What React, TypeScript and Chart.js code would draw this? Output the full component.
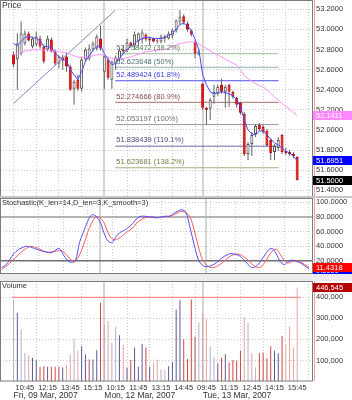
import React, { useEffect, useRef } from 'react';
import { Chart, registerables } from 'chart.js';

Chart.register(...registerables);

// ---------------- data ----------------
const opens = [52.75, 52.70, 52.76, 52.86, 52.96, 52.83, 52.85, 52.91, 52.83, 52.80, 52.90, 52.78, 52.66, 52.72, 52.73, 52.63, 52.41, 52.50, 52.41, 52.70, 52.71, 52.80, 52.81, 52.91,
  52.58, 52.70, 52.50, 52.66, 52.70, 52.80, 52.79, 52.87, 52.84, 52.88, 52.90, 52.95, 52.89, 52.91, 52.89, 52.88, 52.93, 52.91, 52.94, 52.99, 53.08, 53.13, 53.06, 52.99, 52.88, 52.75,
  52.46, 52.22, 52.21, 52.33, 52.36, 52.45, 52.38, 52.45, 52.38, 52.32, 52.27, 52.16, 51.76, 51.86, 51.96, 52.05, 52.03, 51.99, 51.90, 51.78, 51.82, 51.95, 51.79, 51.78, 51.76, 51.73];
const highs = [52.78, 52.96, 53.08, 52.99, 52.98, 52.93, 52.98, 52.94, 52.85, 52.94, 52.92, 52.80, 52.74, 52.75, 52.77, 52.65, 52.50, 52.55, 52.73, 52.82, 52.85, 52.88, 52.95, 53.04,
  52.74, 52.72, 52.69, 52.74, 52.82, 52.84, 52.91, 52.88, 52.98, 52.97, 53.00, 52.96, 52.93, 52.92, 52.91, 52.95, 52.95, 52.98, 53.01, 53.10, 53.19, 53.15, 53.08, 53.00, 52.89, 52.80,
  52.47, 52.23, 52.32, 52.45, 52.45, 52.51, 52.45, 52.46, 52.39, 52.33, 52.28, 52.18, 51.88, 51.98, 52.06, 52.07, 52.05, 52.01, 51.92, 51.86, 51.93, 51.96, 51.82, 51.80, 51.78, 51.74];
const lows = [52.62, 52.40, 52.74, 52.84, 52.88, 52.81, 52.83, 52.81, 52.66, 52.78, 52.77, 52.64, 52.61, 52.60, 52.58, 52.39, 52.25, 52.39, 52.38, 52.68, 52.69, 52.78, 52.79, 52.79,
  52.41, 52.50, 52.41, 52.60, 52.68, 52.75, 52.77, 52.82, 52.80, 52.82, 52.86, 52.88, 52.84, 52.87, 52.86, 52.86, 52.87, 52.90, 52.91, 52.97, 53.05, 53.05, 52.98, 52.93, 52.71, 52.74,
  52.20, 52.05, 52.10, 52.26, 52.34, 52.36, 52.22, 52.23, 52.31, 52.22, 52.15, 51.74, 51.70, 51.74, 51.93, 51.99, 51.96, 51.83, 51.70, 51.70, 51.79, 51.76, 51.75, 51.74, 51.72, 51.50];
const closes = [52.65, 52.86, 52.96, 52.96, 52.89, 52.91, 52.93, 52.83, 52.68, 52.91, 52.78, 52.66, 52.73, 52.69, 52.63, 52.40, 52.48, 52.41, 52.70, 52.80, 52.81, 52.86, 52.93, 52.81,
  52.73, 52.52, 52.68, 52.72, 52.79, 52.78, 52.87, 52.84, 52.95, 52.96, 52.97, 52.90, 52.91, 52.88, 52.88, 52.93, 52.91, 52.96, 52.99, 53.09, 53.12, 53.07, 53.00, 52.95, 52.76, 52.78,
  52.22, 52.20, 52.30, 52.38, 52.43, 52.38, 52.43, 52.38, 52.33, 52.25, 52.17, 51.76, 51.86, 51.95, 52.04, 52.01, 51.98, 51.85, 51.77, 51.84, 51.90, 51.78, 51.77, 51.76, 51.74, 51.50];

const fastMA = [52.86, 52.84, 52.88, 52.92, 52.93, 52.92, 52.91, 52.89, 52.83, 52.83, 52.82, 52.76, 52.73, 52.70, 52.69, 52.60, 52.55, 52.50, 52.58, 52.68, 52.74, 52.79, 52.83, 52.84,
  52.76, 52.70, 52.65, 52.66, 52.71, 52.76, 52.80, 52.83, 52.86, 52.89, 52.91, 52.92, 52.92, 52.91, 52.91, 52.91, 52.92, 52.94, 52.96, 53.00, 53.05, 53.06, 53.04, 52.99, 52.90, 52.80,
  52.55, 52.45, 52.38, 52.36, 52.37, 52.38, 52.37, 52.36, 52.34, 52.30, 52.23, 52.10, 52.00, 51.96, 51.95, 51.99, 51.99, 51.95, 51.91, 51.87, 51.85, 51.82, 51.79, 51.77, 51.74, 51.6951];
const slowMA = [52.745, 52.76, 52.775, 52.785, 52.79, 52.795, 52.797, 52.797, 52.795, 52.795, 52.793, 52.787, 52.78, 52.772, 52.765, 52.752, 52.738, 52.725, 52.718, 52.72, 52.728, 52.738, 52.748, 52.75,
  52.74, 52.725, 52.712, 52.706, 52.708, 52.712, 52.718, 52.726, 52.74, 52.752, 52.765, 52.775, 52.782, 52.788, 52.793, 52.797, 52.80, 52.812, 52.83, 52.846, 52.858, 52.868, 52.874, 52.876, 52.872, 52.855,
  52.83, 52.81, 52.788, 52.765, 52.745, 52.726, 52.705, 52.685, 52.665, 52.646, 52.60, 52.545, 52.51, 52.485, 52.46, 52.44, 52.428, 52.40, 52.365, 52.33, 52.297, 52.265, 52.235, 52.205, 52.173, 52.1411];

const stochK = [11, 14, 22, 30, 35, 38, 40, 39, 37, 35, 33, 32, 31, 34, 37, 29, 21, 18, 20, 45, 60, 74, 83, 81,
  74, 58, 47, 45, 54, 59, 62, 66, 71, 78, 81, 81, 80, 80, 79, 80, 81, 81, 85, 88, 90, 86, 65, 42, 22, 14,
  12, 13, 16, 20, 25, 28, 30, 29, 27, 22, 16, 11, 12, 18, 26, 34, 37, 30, 19, 15, 19, 21, 19, 17, 13, 9.2];
const stochD = [8, 12, 17, 22, 28, 33, 37, 40, 39, 37, 34, 32, 32, 33, 34, 33, 27, 21, 20, 28, 42, 59, 72, 80,
  79, 72, 58, 50, 49, 52, 57, 61, 65, 72, 76, 79, 80, 79, 79, 80, 81, 81, 83, 86, 88, 86, 80, 62, 40, 22,
  14, 11, 11, 14, 18, 23, 27, 29, 29, 26, 22, 16, 12, 11, 16, 25, 33, 36, 29, 20, 17, 19, 20, 18, 15, 11.4318];

const volumes = [386000, 326000, 249000, 137000, 126000, 113000, 102000, 70000, 73000, 70000, 70000, 70000, 70000, 67000, 80000, 130000, 197000, 146000, 168000, 130000, 105000, 105000, 149000, 374000,
  268000, 287000, 184000, 260000, 220000, 173000, 67000, 102000, 162000, 70000, 178000, 162000, 70000, 89000, 105000, 58000, 55000, 73000, 94000, 342000, 386000, 201000, 107000, 390000, 212000, 281000,
  323000, 296000, 168000, 118000, 86000, 113000, 129000, 91000, 102000, 99000, 146000, 304000, 279000, 134000, 67000, 134000, 138000, 110000, 168000, 146000, 134000, 216000, 173000, 263000, 162000, 446545];
const volumeTone = ['bl', 'b', 'bl', 'bl', 'rl', 'b', 'b', 'r', 'r', 'b', 'r', 'r', 'r', 'b', 'rl', 'rl', 'bl', 'rl', 'b', 'b', 'r', 'b', 'b', 'r',
  'bl', 'rl', 'bl', 'bl', 'b', 'rl', 'b', 'r', 'b', 'b', 'b', 'r', 'b', 'rl', 'rl', 'bl', 'rl', 'b', 'b', 'b', 'b', 'r', 'r', 'r', 'r', 'bl',
  'rl', 'rl', 'bl', 'bl', 'b', 'r', 'b', 'r', 'r', 'r', 'r', 'rl', 'bl', 'rl', 'bl', 'r', 'r', 'r', 'r', 'b', 'b', 'r', 'rl', 'rl', 'rl', 'rl'];

const priceTicks = [53.2, 53.0, 52.8, 52.6, 52.4, 52.2, 52.0, 51.8, 51.6, 51.4];
const stochTicks = [100, 80, 60, 40, 20];
const volumeTicks = [100000, 200000, 300000, 400000];
const stochLevels = [80, 20];
const volumeAlert = 400000;

const timeTickBars = [3, 9, 15, 21, 27, 33, 39, 45, 51, 57, 63, 69, 75];
const timeTickLabels = ['10:45', '12:15', '13:45', '15:15', '10:15', '11:45', '13:15', '14:45', '09:45', '11:15', '12:45', '14:15', '15:45'];
const dayStartBars = [0, 24, 50];
const dayLabels = ['Fri, 09 Mar, 2007', 'Mon, 12 Mar, 2007', 'Tue, 13 Mar, 2007'];

const fibLevels = [52.758472, 52.623648, 52.489424, 52.274666, 52.053197, 51.838439, 51.623681];
const fibPercents = ['38.2%', '50%', '61.8%', '80.9%', '100%', '119.1%', '138.2%'];
const fibFromBar = 26.9;
const fibToBar = 70.1;
const trendBars = [0.05, 26.9];
const trendPrices = [52.265, 53.19];

// ---------------- styles / layout ----------------
const X_MIN = -0.4;
const X_MAX = 76.0;
const PRICE_MIN = 51.3327;
const PRICE_MAX = 53.2928;
const STOCH_MIN = 2;
const STOCH_MAX = 106;
const VOL_MIN = 0;
const VOL_MAX = 477400;
const AXIS_W = 39;

const SANS = "'Liberation Sans', Arial, sans-serif";
const SMALL = 7.5;
const GRID = '#c8c8c8';
const TEXT = '#333333';
const fibLineColors = ['#9cc09c', '#8fb0b0', '#5050f0', '#a87070', '#9a9a9a', '#6a6aa0', '#aaaa7a'];
const fibTextColors = ['#5c7c5c', '#4c7272', '#3a3ad8', '#864c4c', '#707070', '#4c4c80', '#7a7a48'];
const toneColors: Record<string, string> = { b: '#5a5a92', bl: '#b0b0cc', r: '#c84848', rl: '#e6a4a4' };

function drawFrame(chart: any) {
  const { ctx, chartArea: a } = chart;
  ctx.save();
  ctx.setLineDash([]);
  ctx.strokeStyle = '#7c7c7c';
  ctx.lineWidth = 1;
  ctx.strokeRect(a.left + 0.5, a.top + 0.5, a.right - a.left - 1, a.bottom - a.top - 1);
  ctx.strokeStyle = '#ff9c9c';
  ctx.beginPath();
  ctx.moveTo(a.right + 1.5, a.top);
  ctx.lineTo(a.right + 1.5, a.bottom);
  ctx.stroke();
  ctx.restore();
}

function drawDaySeparators(chart: any) {
  const { ctx, chartArea: a, scales } = chart;
  ctx.save();
  ctx.strokeStyle = '#d4d4d4';
  ctx.lineWidth = 2;
  dayStartBars.slice(1).forEach((b) => {
    const x = Math.round(scales.x.getPixelForValue(b));
    ctx.beginPath();
    ctx.moveTo(x, a.top);
    ctx.lineTo(x, a.bottom);
    ctx.stroke();
  });
  ctx.restore();
}

function drawTitle(chart: any, text: string, size: number) {
  const { ctx, chartArea: a } = chart;
  ctx.save();
  ctx.font = `${size}px ${SANS}`;
  ctx.fillStyle = TEXT;
  ctx.textAlign = 'left';
  ctx.textBaseline = 'top';
  ctx.fillText(text, a.left + 2, a.top + 1.5);
  ctx.restore();
}

function drawValueBox(chart: any, value: number, text: string, bg: string, fg: string) {
  const { ctx, chartArea: a, scales } = chart;
  const y = scales.y.getPixelForValue(value);
  const top = Math.round(y - 4.5);
  ctx.save();
  ctx.fillStyle = bg;
  ctx.fillRect(a.right, top, chart.width - a.right, 9);
  ctx.fillStyle = fg;
  ctx.font = `${SMALL}px ${SANS}`;
  ctx.textAlign = 'left';
  ctx.textBaseline = 'middle';
  ctx.fillText(text, a.right + 3, top + 5);
  ctx.restore();
}

function baseScales(yMin: number, yMax: number, yTicks: number[], fmt: (v: number) => string) {
  return {
    x: {
      type: 'linear',
      min: X_MIN,
      max: X_MAX,
      afterBuildTicks: (s: any) => { s.ticks = timeTickBars.map((v) => ({ value: v })); },
      ticks: { display: false },
      grid: { color: GRID, drawTicks: false },
      border: { display: false, dash: [1, 2] },
      afterFit: (s: any) => { s.height = 0; },
    },
    y: {
      type: 'linear',
      position: 'right',
      min: yMin,
      max: yMax,
      afterBuildTicks: (s: any) => { s.ticks = yTicks.map((v) => ({ value: v })); },
      ticks: { callback: (v: any) => fmt(Number(v)), padding: 3, color: TEXT, font: { family: SANS, size: SMALL } },
      grid: { color: GRID, drawTicks: false },
      border: { display: false, dash: [1, 2] },
      afterFit: (s: any) => { s.width = AXIS_W; s.paddingTop = 0; s.paddingBottom = 0; },
    },
  } as any;
}

const common = {
  animation: false,
  responsive: false,
  events: [],
  layout: { padding: 0 },
  plugins: { legend: { display: false }, tooltip: { enabled: false } },
} as any;

function makePrice(canvas: HTMLCanvasElement) {
  const idx = opens.map((_, i) => i);
  const down = idx.map((i) => closes[i] < opens[i]);
  return new Chart(canvas, {
    type: 'bar',
    data: {
      datasets: [
        ...fibLevels.map((lvl, k) => ({
          type: 'line', data: [{ x: fibFromBar, y: lvl }, { x: fibToBar, y: lvl }],
          borderColor: fibLineColors[k], borderWidth: 1, pointRadius: 0, order: 6,
        })),
        {
          type: 'bar', data: idx.map((i) => ({ x: i, y: [lows[i], highs[i]] })),
          backgroundColor: '#606060', barThickness: 1, inflateAmount: 0, grouped: false, order: 5,
        },
        {
          type: 'bar', data: idx.map((i) => ({ x: i, y: [opens[i], closes[i]] })),
          backgroundColor: idx.map((i) => (down[i] ? '#ee1111' : '#ffffff')),
          borderColor: idx.map((i) => (down[i] ? '#cc0000' : '#4a4a4a')),
          borderWidth: 1, borderSkipped: false, inflateAmount: 0, barThickness: 3, grouped: false, order: 4,
        },
        {
          type: 'line', data: trendBars.map((b, k) => ({ x: b, y: trendPrices[k] })),
          borderColor: '#8686c6', borderWidth: 1, pointRadius: 0, order: 3,
        },
        {
          type: 'line', data: idx.map((i) => ({ x: i, y: slowMA[i] })),
          borderColor: '#ff90ff', borderWidth: 1, pointRadius: 0, order: 2,
        },
        {
          type: 'line', data: idx.map((i) => ({ x: i, y: fastMA[i] })),
          borderColor: '#4a4aff', borderWidth: 1, pointRadius: 0, order: 1,
        },
      ] as any,
    },
    options: { ...common, scales: baseScales(PRICE_MIN, PRICE_MAX, priceTicks, (v) => v.toFixed(4)) },
    plugins: [{
      id: 'pricePanel',
      beforeDatasetsDraw: (chart: any) => drawDaySeparators(chart),
      afterDatasetsDraw: (chart: any) => {
        const { ctx, scales } = chart;
        ctx.save();
        ctx.font = `${SMALL}px ${SANS}`;
        ctx.textAlign = 'left';
        ctx.textBaseline = 'bottom';
        fibLevels.forEach((lvl, k) => {
          ctx.fillStyle = fibTextColors[k];
          ctx.fillText(`${lvl.toFixed(6)} (${fibPercents[k]})`, scales.x.getPixelForValue(fibFromBar) + 1, scales.y.getPixelForValue(lvl) - 2);
        });
        ctx.restore();
        drawTitle(chart, 'Price', 8.5);
      },
      afterDraw: (chart: any) => {
        drawFrame(chart);
        const n = closes.length - 1;
        drawValueBox(chart, slowMA[n], slowMA[n].toFixed(4), '#ff88ff', '#ffffff');
        drawValueBox(chart, fastMA[n], fastMA[n].toFixed(4), '#0000ff', '#ffffff');
        drawValueBox(chart, closes[n], closes[n].toFixed(4), '#000000', '#ffffff');
      },
    }],
  });
}

function makeStoch(canvas: HTMLCanvasElement) {
  const idx = stochK.map((_, i) => i);
  return new Chart(canvas, {
    type: 'line',
    data: {
      datasets: [
        ...stochLevels.map((lvl, k) => ({
          type: 'line', data: [{ x: X_MIN, y: lvl }, { x: X_MAX, y: lvl }],
          borderColor: k === 0 ? '#b4b4b4' : '#6e6e6e', borderWidth: k === 0 ? 2 : 1.5, pointRadius: 0, order: 3,
        })),
        {
          type: 'line', data: idx.map((i) => ({ x: i, y: stochD[i] })),
          borderColor: '#ff5a5a', borderWidth: 1, pointRadius: 0, tension: 0.35, order: 2,
        },
        {
          type: 'line', data: idx.map((i) => ({ x: i, y: stochK[i] })),
          borderColor: '#5050ff', borderWidth: 1, pointRadius: 0, tension: 0.35, order: 1,
        },
      ] as any,
    },
    options: { ...common, scales: baseScales(STOCH_MIN, STOCH_MAX, stochTicks, (v) => v.toFixed(4)) },
    plugins: [{
      id: 'stochPanel',
      beforeDatasetsDraw: (chart: any) => drawDaySeparators(chart),
      afterDatasetsDraw: (chart: any) => drawTitle(chart, 'Stochastic(K_len=14,D_len=3,K_smooth=3)', SMALL),
      afterDraw: (chart: any) => {
        drawFrame(chart);
        const n = stochK.length - 1;
        drawValueBox(chart, stochK[n] - 3, stochK[n].toFixed(4), '#0000ff', '#ffffff');
        drawValueBox(chart, stochD[n], stochD[n].toFixed(4), '#ff0000', '#ffffff');
      },
    }],
  });
}

function makeVolume(canvas: HTMLCanvasElement) {
  const idx = volumes.map((_, i) => i);
  const scales = baseScales(VOL_MIN, VOL_MAX, volumeTicks, (v) => v.toLocaleString('en-US'));
  scales.x = {
    ...scales.x,
    ticks: {
      display: true, padding: 1.5, maxRotation: 0, autoSkip: false, color: TEXT,
      font: { family: SANS, size: SMALL },
      callback: (v: any) => timeTickLabels[timeTickBars.indexOf(Number(v))] ?? '',
    },
    afterFit: (s: any) => { s.height = 18.5; },
  };
  return new Chart(canvas, {
    type: 'bar',
    data: {
      datasets: [
        {
          type: 'line', data: [{ x: X_MIN, y: volumeAlert }, { x: X_MAX, y: volumeAlert }],
          borderColor: '#ff7474', borderWidth: 1, pointRadius: 0, order: 1,
        },
        {
          type: 'bar', data: idx.map((i) => ({ x: i, y: volumes[i] })),
          backgroundColor: idx.map((i) => toneColors[volumeTone[i]]),
          barThickness: 1, inflateAmount: 0, grouped: false, order: 2,
        },
      ] as any,
    },
    options: { ...common, scales },
    plugins: [{
      id: 'volumePanel',
      beforeDatasetsDraw: (chart: any) => drawDaySeparators(chart),
      afterDatasetsDraw: (chart: any) => drawTitle(chart, 'Volume', SMALL),
      afterDraw: (chart: any) => {
        drawFrame(chart);
        const { ctx, chartArea: a, scales: sc } = chart;
        // day labels under the time axis, left-aligned at each day's first bar
        ctx.save();
        ctx.font = `8.5px ${SANS}`;
        ctx.fillStyle = TEXT;
        ctx.textAlign = 'left';
        ctx.textBaseline = 'top';
        dayStartBars.forEach((b, k) => {
          ctx.fillText(dayLabels[k], Math.max(a.left + 1, sc.x.getPixelForValue(b)), a.bottom + 9.5);
        });
        ctx.restore();
        const n = volumes.length - 1;
        drawValueBox(chart, volumes[n], volumes[n].toLocaleString('en-US'), '#b40000', '#ffffff');
      },
    }],
  });
}

export default function App() {
  const priceRef = useRef<HTMLCanvasElement>(null);
  const stochRef = useRef<HTMLCanvasElement>(null);
  const volRef = useRef<HTMLCanvasElement>(null);

  useEffect(() => {
    const charts = [
      makePrice(priceRef.current as HTMLCanvasElement),
      makeStoch(stochRef.current as HTMLCanvasElement),
      makeVolume(volRef.current as HTMLCanvasElement),
    ];
    return () => charts.forEach((c) => c.destroy());
  }, []);

  return (
    <div style={{ position: 'fixed', left: 0, top: 0, width: 352, height: 400, background: '#ffffff', overflow: 'hidden' }}>
      <canvas ref={priceRef} width={352} height={197} style={{ position: 'absolute', left: 0, top: 0 }} />
      <div style={{ position: 'absolute', left: 0, top: 196, width: 352, height: 2, background: '#c6c6c6' }} />
      <canvas ref={stochRef} width={352} height={76} style={{ position: 'absolute', left: 0, top: 198 }} />
      <div style={{ position: 'absolute', left: 0, top: 274, width: 352, height: 7, background: '#ececec' }} />
      <canvas ref={volRef} width={352} height={119} style={{ position: 'absolute', left: 0, top: 281 }} />
    </div>
  );
}
